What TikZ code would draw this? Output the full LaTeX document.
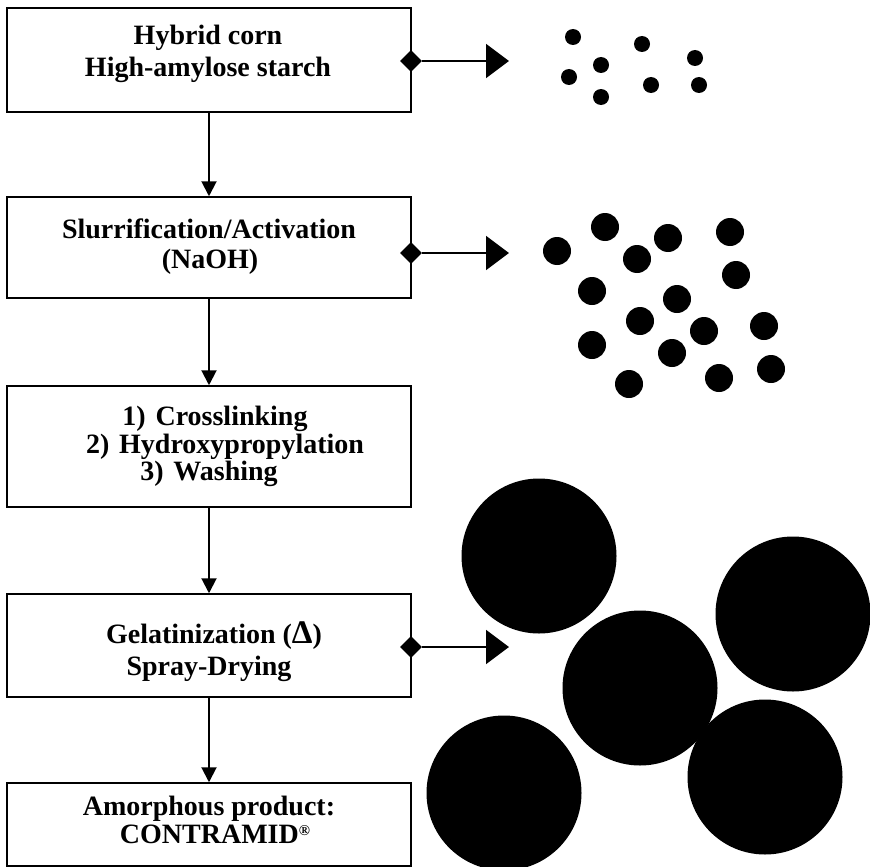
\documentclass[tikz,border=0pt]{standalone}
\usepackage{fontspec}
\setmainfont{Liberation Serif}
\usetikzlibrary{arrows.meta,shapes.geometric}
\begin{document}
\begin{tikzpicture}[x=1pt,y=-1pt,
  box/.style={draw,line width=1.5pt,minimum width=404pt,inner sep=0pt},
  lbl/.style={anchor=base,inner sep=0pt,font=\fontsize{28}{30}\selectfont\bfseries},
  vflow/.style={line width=2pt,-{Triangle[length=15pt,width=15pt]}},
  hflow/.style={line width=2pt,-{Triangle[length=23pt,width=34pt]}},
  dmd/.style={diamond,fill=black,minimum width=22pt,minimum height=22pt,inner sep=0pt},
  sdot/.style={fill=black},
]
\useasboundingbox (0,0) rectangle (870,867);
% boxes
\node[box,minimum height=104pt] (b1) at (209,60) {};
\node[box,minimum height=101pt] (b2) at (209,247.5) {};
\node[box,minimum height=121pt] (b3) at (209,446.5) {};
\node[box,minimum height=103pt] (b4) at (209,645.5) {};
\node[box,minimum height=83pt] (b5) at (209,824.5) {};
% texts
\node[lbl] (t1a) at (208,45) {Hybrid corn};
\node[lbl] (t1b) at (208,77) {High-amylose starch};
\node[lbl] (t2a) at (209,238) {Slurrification/Activation};
\node[lbl] (t2b) at (210,268) {(NaOH)};
\node[lbl] (t3a) at (215,425) {1)\hspace{0.35em}Crosslinking};
\node[lbl] (t3b) at (225,453) {2)\hspace{0.35em}Hydroxypropylation};
\node[lbl] (t3c) at (209,480) {3)\hspace{0.35em}Washing};
\node[lbl] (t4a) at (214,643) {Gelatinization ({\fontsize{33}{33}\selectfont Δ})};
\node[lbl] (t4b) at (209,675) {Spray-Drying};
\node[lbl] (t5a) at (209,815) {Amorphous product:};
\node[lbl] (t5b) at (215,843) {CONTRAMID\raisebox{0.28em}{\fontsize{15}{15}\selectfont ®}};
% vertical flow
\draw[vflow] (b1.south) -- (b2.north);
\draw[vflow] (b2.south) -- (b3.north);
\draw[vflow] (b3.south) -- (b4.north);
\draw[vflow] (b4.south) -- (b5.north);
% side arrows
\node[dmd] (d1) at (411,61) {};
\node[dmd] (d2) at (411,253) {};
\node[dmd] (d4) at (411,647) {};
\coordinate (a1) at (509,61);
\coordinate (a2) at (509,253);
\coordinate (a4) at (509,647);
\draw[hflow] (d1.east) -- (a1);
\draw[hflow] (d2.east) -- (a2);
\draw[hflow] (d4.east) -- (a4);
% small granules
\foreach \x/\y in {573/37,642/44,601/65,695/58,569/77,651/85,699/85,601/97}
  \fill[sdot] (\x,\y) circle (8);
% swollen granules
\foreach \x/\y in {605/227,557/251,668/238,730/232,637/259,736/275,592/291,677/299,640/321,704/331,764/326,592/345,672/353,771/369,719/378,629/384}
  \fill[sdot] (\x,\y) circle (14);
% spray-dried particles
\foreach \x/\y in {539/556,640/688,793/614,765/777,504/793}
  \fill[sdot] (\x,\y) circle (77.5);
\end{tikzpicture}
\end{document}
